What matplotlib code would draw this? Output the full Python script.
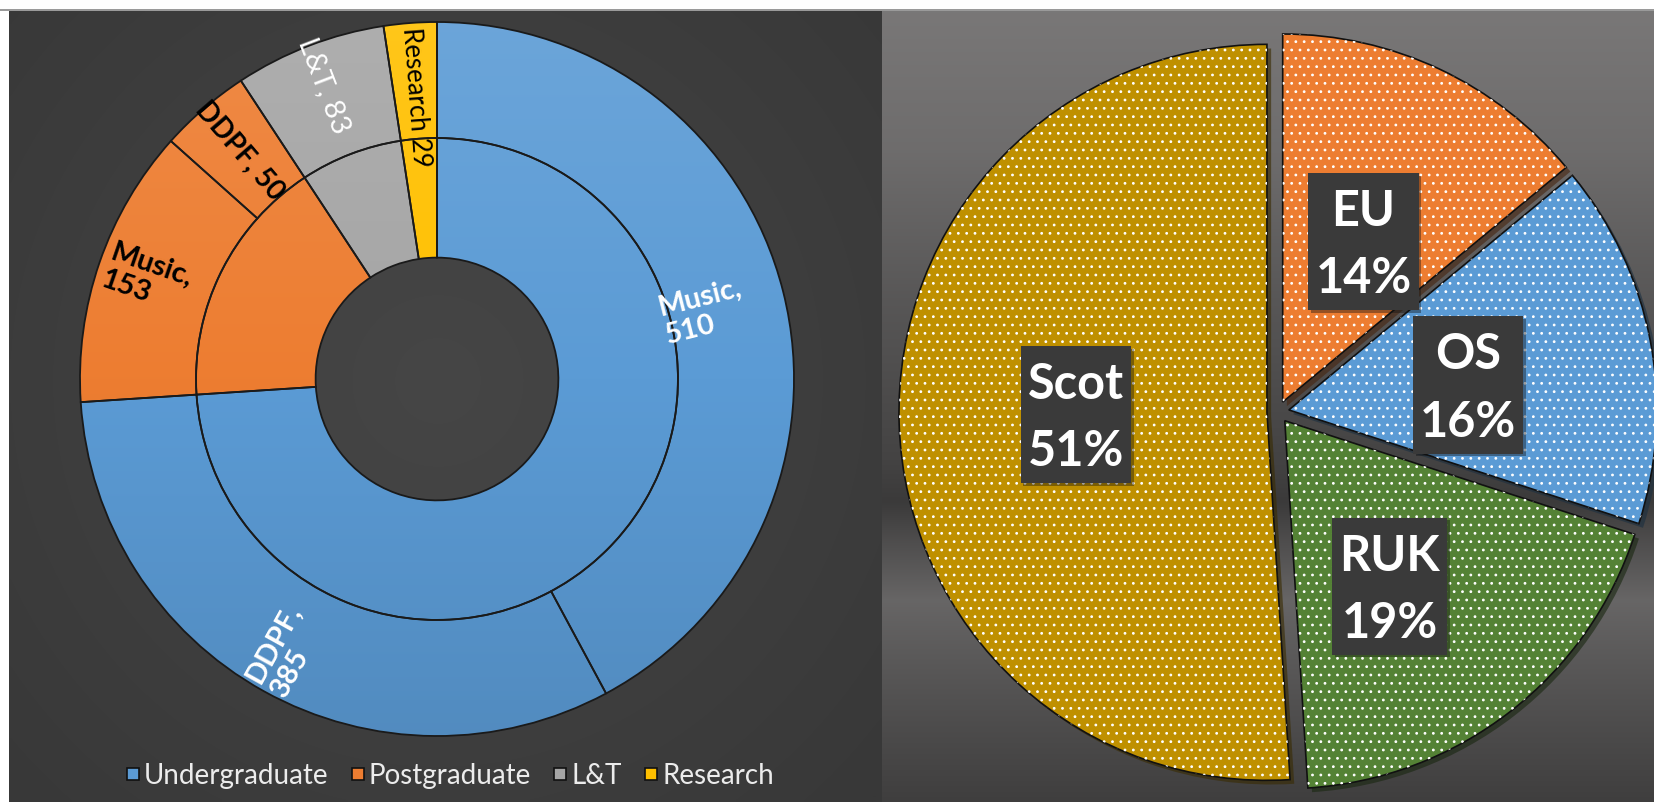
import numpy as np
import matplotlib
matplotlib.use("Agg")
import matplotlib.pyplot as plt
from matplotlib.lines import Line2D
from matplotlib.patches import Wedge, Rectangle
from matplotlib.transforms import IdentityTransform
import matplotlib.colors as mcolors
import matplotlib.patheffects as pe

plt.rcParams['font.family'] = ['Lato', 'DejaVu Sans']
plt.rcParams['hatch.color'] = 'white'
plt.rcParams['hatch.linewidth'] = 0.8

# ---------------- data ----------------
ring_categories = ['Undergraduate', 'Postgraduate', 'L&T', 'Research']
ring_colors = ['#5B9BD5', '#ED7D31', '#A5A5A5', '#FFC000']

sub_names = ['Music', 'DDPF', 'Music', 'DDPF', 'L&T', 'Research']
sub_values = [510, 385, 153, 50, 83, 29]
sub_parent = [0, 0, 1, 1, 2, 3]
sub_label_text = ['Music,\n510', 'DDPF,\n385', 'Music,\n153', 'DDPF, 50', 'L&T, 83', 'Research 29']
sub_label_color = ['white', 'white', 'black', 'black', 'white', 'black']
sub_label_weight = ['bold', 'bold', 'bold', 'bold', 'normal', 'normal']
sub_label_size = [21, 21, 21, 20, 21, 18.5]
sub_label_radius = [0.77, 0.87, 0.86, 0.845, 0.88, 0.79]

ring_values = [sum(v for v, p in zip(sub_values, sub_parent) if p == i)
               for i in range(len(ring_categories))]

pie_labels = ['EU', 'OS', 'RUK', 'Scot']
pie_values = [14, 16, 19, 51]
pie_colors = ['#ED7D31', '#5B9BD5', '#548235', '#BF9000']
pie_label_dist = [0.48, 0.49, 0.54, 0.52]
pie_label_turn = [-2, -4, -6, 0]   # degrees, counter-clockwise

# ---------------- figure ----------------
W, H = 1654, 802
fig = plt.figure(figsize=(W / 100, H / 100), dpi=100, facecolor='white')


def box(x0, y0, x1, y1):
    return [x0 / W, 1 - y1 / H, (x1 - x0) / W, (y1 - y0) / H]


# left panel background (subtle radial)
axL = fig.add_axes(box(9, 10, 882, 802))
yy, xx = np.mgrid[10:802:4, 9:882:4]
d = np.sqrt((xx - 437) ** 2 + (yy - 379) ** 2) / 600.0
g = (0x46 - (0x46 - 0x38) * np.clip(d, 0, 1)) / 255.0
axL.imshow(np.dstack([g, g, g]), aspect='auto', extent=(0, 1, 0, 1), interpolation='bilinear')
axL.set_axis_off()

# right panel background (metallic vertical gradient)
axR = fig.add_axes(box(882, 10, 1654, 802))
ys = np.arange(10, 802)
stops_y = [10, 150, 300, 460, 501, 540, 600, 650, 700, 802]
stops_v = [0x79, 0x6e, 0x58, 0x44, 0x3b, 0x4e, 0x67, 0x5c, 0x52, 0x3f]
v = np.interp(ys, stops_y, stops_v) / 255.0
img = np.dstack([v, v * 0.985, v * 0.985]).reshape(len(ys), 1, 3)
axR.imshow(np.repeat(img, 4, axis=1), aspect='auto', extent=(0, 1, 0, 1), interpolation='bilinear')
axR.set_axis_off()

fig.add_artist(Rectangle((0, 1 - 11 / H), 1, 2 / H, transform=fig.transFigure,
                         facecolor='#9a9a9a', edgecolor='none'))

# ---------------- left: sunburst donut ----------------
cxL, cyL, RL = 437, 379, 357
hs = 362
axD = fig.add_axes(box(cxL - hs, cyL - hs, cxL + hs, cyL + hs))
axD.set_axis_off()

outer_colors = [ring_colors[p] for p in sub_parent]
wp = dict(edgecolor='#1a1a1a', linewidth=1.3)
outer, _ = axD.pie(sub_values, radius=1.0, colors=outer_colors, startangle=90,
                   counterclock=False, wedgeprops=dict(width=0.325, **wp))
inner, _ = axD.pie(ring_values, radius=0.675, colors=ring_colors, startangle=90,
                   counterclock=False, wedgeprops=dict(width=0.335, **wp))


def grad_fill(ax, wedge, color):
    c = np.array(mcolors.to_rgb(color))
    t = np.linspace(1, -1, 200)[:, None]
    light = np.clip(c + (1 - c) * 0.10 * np.clip(t, 0, 1), 0, 1)
    dark = c * (1 - 0.10 * np.clip(-t, 0, 1))
    arr = np.where(t >= 0, light, dark)[:, None, :]
    arr = np.repeat(arr, 2, axis=1)
    im = ax.imshow(arr, extent=(-1, 1, -1, 1), aspect='auto', zorder=0.5,
                   interpolation='bilinear')
    im.set_clip_path(wedge)
    wedge.set_facecolor('none')


for w, c in zip(outer, outer_colors):
    grad_fill(axD, w, c)
for w, c in zip(inner, ring_colors):
    grad_fill(axD, w, c)

for w, txt, col, wt, fs, rr in zip(outer, sub_label_text, sub_label_color,
                                    sub_label_weight, sub_label_size, sub_label_radius):
    mid = np.deg2rad((w.theta1 + w.theta2) / 2)
    rot = ((np.rad2deg(mid) + 90) % 180) - 90
    axD.text(rr * np.cos(mid), rr * np.sin(mid), txt, color=col, fontsize=fs,
             fontweight=wt, rotation=rot, rotation_mode='anchor', ha='center',
             va='center', multialignment='left', linespacing=1.1, zorder=5)

lim = hs / RL
axD.set_xlim(-lim, lim)
axD.set_ylim(-lim, lim)
axD.set_aspect('equal')

handles = [Line2D([], [], marker='s', linestyle='none', markersize=8,
                  markerfacecolor=c, markeredgecolor='#111111', markeredgewidth=1.2)
           for c in ring_colors]
fig.legend(handles, ring_categories, loc='center', bbox_to_anchor=(450 / W, 1 - 776 / H),
           ncol=4, frameon=False, fontsize=20, labelcolor='#ececec',
           handlelength=0.5, handletextpad=0.15, columnspacing=0.8, borderaxespad=0)

# ---------------- right: exploded pie ----------------
cxP, cyP, RP = 1278, 412, 368
hp = 400
axP = fig.add_axes(box(cxP - hp, cyP - hp, cxP + hp, cyP + hp))
axP.set_axis_off()
wedges, _ = axP.pie(pie_values, colors=pie_colors, startangle=90, counterclock=False,
                    explode=[0.03] * len(pie_values),
                    wedgeprops=dict(edgecolor='#111111', linewidth=1.2,
                                    path_effects=[pe.SimplePatchShadow(offset=(3, -3), alpha=0.6),
                                                  pe.Normal()]))
for w in wedges:
    axP.add_patch(Wedge(w.center, w.r, w.theta1, w.theta2, facecolor='none',
                        edgecolor='white', linewidth=0, hatch='..', zorder=w.zorder + 0.1))

total = sum(pie_values)
pie_texts = []
for w, lab, val, dist, turn in zip(wedges, pie_labels, pie_values, pie_label_dist, pie_label_turn):
    mid = np.deg2rad((w.theta1 + w.theta2) / 2 + turn)
    x = w.center[0] + dist * w.r * np.cos(mid)
    y = w.center[1] + dist * w.r * np.sin(mid)
    t = axP.text(x, y, f"{lab}\n{round(100 * val / total)}%", color='white', fontsize=35,
                 fontweight='bold', ha='center', va='center', multialignment='center',
                 linespacing=1.6, zorder=7)
    pie_texts.append(t)

limP = hp / RP
axP.set_xlim(-limP, limP)
axP.set_ylim(-limP, limP)
axP.set_aspect('equal')

# dark label boxes sized from the rendered text
fig.canvas.draw()
renderer = fig.canvas.get_renderer()
for t in pie_texts:
    bb = t.get_window_extent(renderer)
    rect = Rectangle((bb.x0 - 7, bb.y0 - 9), bb.width + 14, bb.height + 9 + 16,
                     transform=IdentityTransform(), facecolor='#3a3a3a', edgecolor='none',
                     zorder=6, path_effects=[pe.SimplePatchShadow(offset=(2, -2), alpha=0.4),
                                             pe.Normal()])
    axP.add_artist(rect)

fig.savefig('out.png', dpi=100, facecolor='white')
